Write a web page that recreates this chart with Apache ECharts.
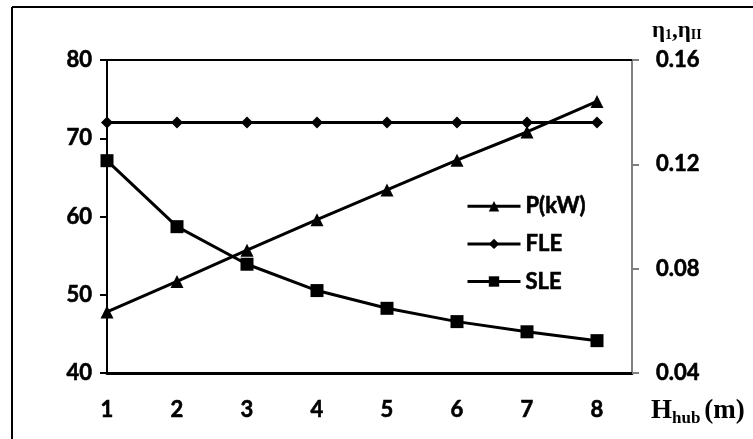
<!DOCTYPE html>
<html>
<head>
<meta charset="utf-8">
<script src="https://cdn.jsdelivr.net/npm/echarts@6/dist/echarts.min.js"></script>
<style>html,body{margin:0;padding:0;background:#fff}#c{width:753px;height:439px}</style>
</head>
<body>
<div id="c"></div>
<script>
const xValues = [1, 2, 3, 4, 5, 6, 7, 8];
const pKW = [47.8, 51.7, 55.7, 59.6, 63.4, 67.2, 70.8, 74.7];
const fle = [0.136, 0.136, 0.136, 0.136, 0.136, 0.136, 0.136, 0.136];
const sle = [0.1214, 0.0961, 0.0817, 0.0716, 0.0648, 0.0597, 0.0558, 0.0524];
const seriesNames = ['P(kW)', 'FLE', 'SLE'];
const leftRange = [40, 80, 10];
const rightRange = [0.04, 0.16, 0.04];
const xRange = [1, 8.5, 1];

const pair = arr => xValues.map((x, i) => [x, arr[i]]);
const FONT = 'Lato';
const heavy = {fontFamily: FONT, fontWeight: 'bold', fontSize: 22, color: '#000', textBorderColor: '#000', textBorderWidth: 0.6};
const chart = echarts.init(document.getElementById('c'), null, {renderer: 'canvas'});
chart.setOption({
  animation: false,
  backgroundColor: '#fff',
  grid: {left: 107, right: 121, top: 60, bottom: 66},
  legend: {
    orient: 'vertical', left: 461, top: 190,
    itemWidth: 53, itemHeight: 13, itemGap: 15,
    lineStyle: {width: 3},
    textStyle: Object.assign({}, heavy),
    data: seriesNames
  },
  xAxis: [{
    type: 'value', min: xRange[0], max: xRange[1], interval: xRange[2],
    axisLine: {show: true, onZero: false, lineStyle: {color: '#000', width: 3}},
    axisTick: {show: false}, splitLine: {show: false},
    axisLabel: Object.assign({
      showMaxLabel: false, margin: 26,
      formatter: v => Number.isInteger(Math.round(v * 1000) / 1000) ? String(Math.round(v)) : ''
    }, heavy)
  }, {
    type: 'value', position: 'top', min: xRange[0], max: xRange[1], interval: xRange[2],
    axisLine: {show: true, onZero: false, lineStyle: {color: '#000', width: 2}},
    axisTick: {show: false}, axisLabel: {show: false}, splitLine: {show: false}
  }],
  yAxis: [{
    type: 'value', position: 'left', min: leftRange[0], max: leftRange[1], interval: leftRange[2],
    axisLine: {show: true, onZero: false, lineStyle: {color: '#000', width: 2}},
    axisTick: {show: true, inside: false, length: 7, lineStyle: {color: '#000', width: 2}},
    splitLine: {show: false},
    axisLabel: Object.assign({margin: 15}, heavy)
  }, {
    type: 'value', position: 'right', min: rightRange[0], max: rightRange[1], interval: rightRange[2],
    axisLine: {show: true, onZero: false, lineStyle: {color: '#808080', width: 2}},
    axisTick: {show: true, inside: false, length: 7, lineStyle: {color: '#808080', width: 2}},
    splitLine: {show: false},
    axisLabel: Object.assign({margin: 24, formatter: v => v.toFixed(2)}, heavy)
  }],
  series: [{
    name: seriesNames[0], type: 'line', yAxisIndex: 0, data: pair(pKW),
    symbol: 'triangle', symbolSize: 13,
    lineStyle: {color: '#000', width: 3}, itemStyle: {color: '#000'}
  }, {
    name: seriesNames[1], type: 'line', yAxisIndex: 1, data: pair(fle),
    symbol: 'diamond', symbolSize: 12,
    lineStyle: {color: '#000', width: 3}, itemStyle: {color: '#000'}
  }, {
    name: seriesNames[2], type: 'line', yAxisIndex: 1, data: pair(sle),
    symbol: 'rect', symbolSize: 13,
    lineStyle: {color: '#000', width: 3}, itemStyle: {color: '#000'}
  }],
  graphic: [
    {type: 'line', shape: {x1: 12, y1: 7, x2: 12, y2: 439}, style: {stroke: '#000', lineWidth: 2}},
    {type: 'line', shape: {x1: 12, y1: 7, x2: 753, y2: 7}, style: {stroke: '#000', lineWidth: 2}},
    {type: 'text', left: 652, top: 20, style: {
      text: '{a|η}{s|1}{a|,η}{s|II}',
      rich: {
        a: {fontFamily: 'Liberation Serif', fontWeight: 'bold', fontSize: 23, fill: '#000'},
        s: {fontFamily: 'Liberation Serif', fontWeight: 'bold', fontSize: 14, fill: '#000', padding: [8, 0, 0, 0]}
      }
    }},
    {type: 'text', left: 651, top: 398, style: {
      text: '{a|H}{s|hub}{a|(m)}',
      rich: {
        a: {fontFamily: 'Liberation Serif', fontWeight: 'bold', fontSize: 27, fill: '#000'},
        s: {fontFamily: 'Liberation Serif', fontWeight: 'bold', fontSize: 17, fill: '#000', padding: [14, 4, 0, 0]}
      }
    }}
  ]
});
</script>
</body>
</html>
